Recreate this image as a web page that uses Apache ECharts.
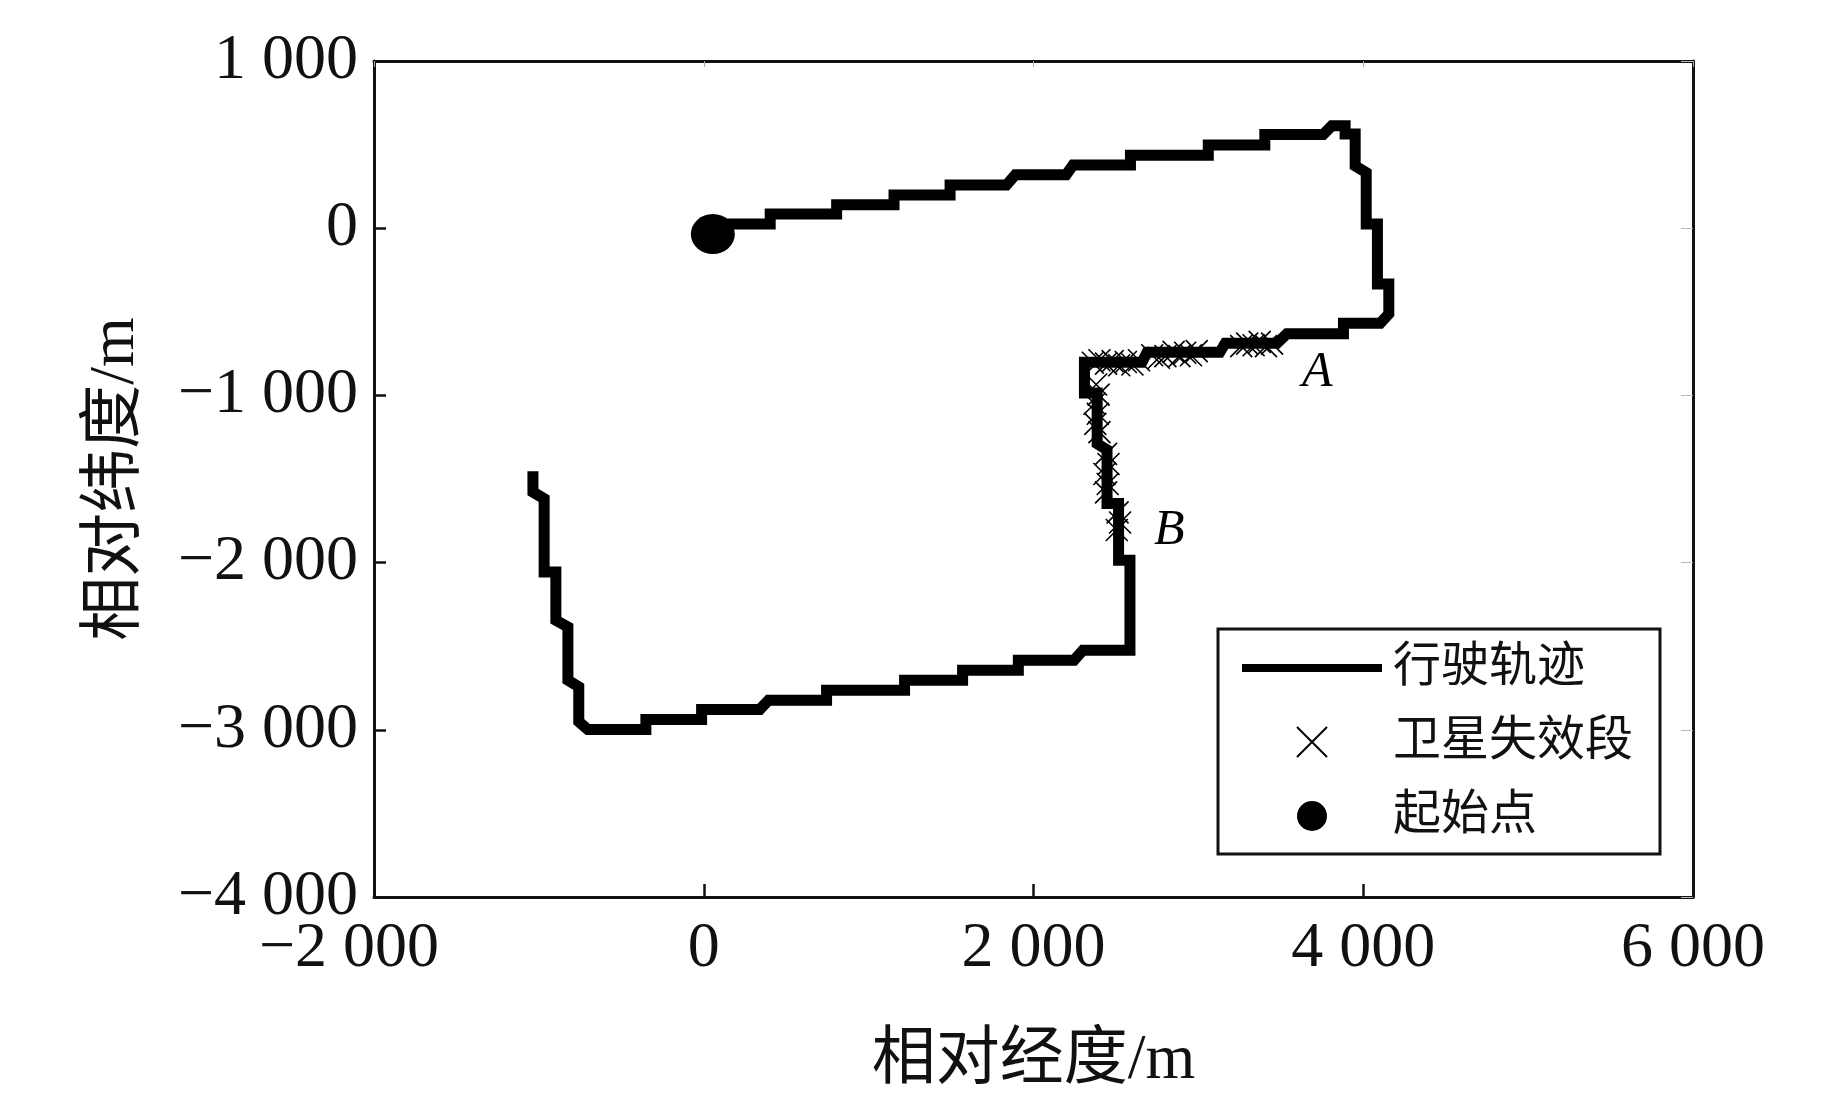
<!DOCTYPE html>
<html>
<head>
<meta charset="utf-8">
<script src="https://cdn.jsdelivr.net/npm/echarts@6/dist/echarts.min.js"></script>
<style>
  html, body { margin: 0; padding: 0; background: #fff; }
  #main { width: 1843px; height: 1110px; }
</style>
</head>
<body>
<div id="main"></div>
<script>
// 行驶轨迹 (relative lon / lat, m)
var trackX = [61, 403, 403, 806, 806, 1154, 1154, 1494, 1494, 1836, 1890, 2198, 2240, 2588, 2588, 3060, 3060, 3403, 3403, 3757,
  3809, 3890, 3890, 3951, 3951, 4018, 4018, 4086, 4086, 4155, 4155, 4103, 3880, 3880, 3537, 3477, 3163, 3130, 2689, 2658,
  2309, 2309, 2386, 2386, 2446, 2446, 2516, 2516, 2585, 2585, 2300, 2246, 1908, 1908, 1570, 1570, 1218, 1218, 745, 745,
  393, 340, -13, -13, -351, -351, -703, -758, -758, -824, -824, -897, -897, -968, -968, -1036, -1036];
var trackY = [25, 25, 85, 85, 140, 140, 198, 198, 258, 258, 320, 320, 378, 378, 437, 437, 497, 497, 560, 560,
  612, 612, 563, 563, 373, 333, 25, 25, -333, -333, -513, -569, -569, -632, -632, -688, -688, -742, -742, -802,
  -802, -985, -985, -1289, -1325, -1646, -1646, -1986, -1986, -2524, -2524, -2584, -2584, -2644, -2644, -2703, -2703, -2763, -2763, -2823,
  -2823, -2878, -2878, -2938, -2938, -2998, -2998, -2952, -2743, -2703, -2385, -2345, -2056, -2056, -1618, -1578, -1453];

// 卫星失效段 points
var failX = [3447, 3410, 3372, 3335, 3296, 3260, 2990, 2955, 2920, 2885, 2850, 2800, 2760, 2720,
  2640, 2600, 2560, 2520, 2480, 2440, 2400, 2360, 2380, 2395, 2370, 2390, 2375, 2400,
  2440, 2455, 2430, 2450, 2440, 2510, 2525, 2505];
var failY = [-690, -705, -680, -700, -690, -705, -735, -760, -745, -765, -740, -765, -775, -760,
  -790, -815, -800, -820, -795, -810, -790, -805, -935, -995, -1050, -1110, -1170, -1220,
  -1350, -1410, -1470, -1530, -1580, -1700, -1760, -1805];

// 起始点
var startX = [55];
var startY = [-35];

// point labels
var noteNames = ['A', 'B'];
var noteX = [3721, 2824];
var noteY = [-863, -1813];

var xTicks = { '-2000': '−2 000', '0': '0', '2000': '2 000', '4000': '4 000', '6000': '6 000' };
var yTicks = { '1000': '1 000', '0': '0', '-1000': '−1 000', '-2000': '−2 000', '-3000': '−3 000', '-4000': '−4 000' };

var serif = "'Liberation Serif', 'Times New Roman', 'Noto Sans CJK SC', serif";

function zip(xs, ys) {
  var out = [];
  for (var i = 0; i < xs.length; i++) out.push([xs[i], ys[i]]);
  return out;
}

var myChart = echarts.init(document.getElementById('main'));

var option = {
  backgroundColor: '#fff',
  animation: false,
  grid: { left: 374, right: 150, top: 61, bottom: 213 },
  legend: {
    data: [{ name: '行驶轨迹', itemStyle: { opacity: 0 } }, '卫星失效段', '起始点'],
    orient: 'vertical',
    left: 1218,
    top: 629,
    padding: [15, 27, 14, 20],
    itemWidth: 140,
    itemHeight: 30,
    itemGap: 26,
    borderColor: '#111',
    borderWidth: 3,
    backgroundColor: '#fff',
    lineStyle: { width: 8, color: '#000', opacity: 1 },
    textStyle: { fontFamily: serif, fontSize: 48, color: '#111', padding: [0, 0, 0, 6] }
  },
  xAxis: [{
    type: 'value', position: 'bottom',
    min: -2000, max: 6000, interval: 2000,
    name: '相对经度/m', nameLocation: 'middle', nameGap: 132,
    nameTextStyle: { fontFamily: serif, fontSize: 64, color: '#111' },
    axisLine: { onZero: false, lineStyle: { color: '#111', width: 3 } },
    axisTick: { inside: true, length: 13, lineStyle: { color: '#111', width: 2.5 } },
    axisLabel: {
      margin: 20, fontFamily: serif, fontSize: 64, color: '#111',
      formatter: function (v) {
        return v < 0 ? '{neg|' + xTicks[v] + '}' : xTicks[v];
      },
      rich: { neg: { fontFamily: serif, fontSize: 64, color: '#111', padding: [0, 50, 0, 0] } }
    },
    splitLine: { show: false }
  }, {
    type: 'value', position: 'top',
    min: -2000, max: 6000, interval: 2000,
    axisLine: { onZero: false, lineStyle: { color: '#111', width: 3 } },
    axisTick: { inside: true, length: 6, lineStyle: { color: '#aaa', width: 1 } },
    axisLabel: { show: false },
    splitLine: { show: false }
  }],
  yAxis: [{
    type: 'value', position: 'left',
    min: -4000, max: 1000, interval: 1000,
    name: '相对纬度/m', nameLocation: 'middle', nameGap: 226,
    nameTextStyle: { fontFamily: serif, fontSize: 64, color: '#111' },
    axisLine: { onZero: false, lineStyle: { color: '#111', width: 3 } },
    axisTick: { inside: true, length: 12, lineStyle: { color: '#111', width: 2.5 } },
    axisLabel: {
      margin: 16, fontFamily: serif, fontSize: 64, color: '#111',
      formatter: function (v) { return yTicks[v]; }
    },
    splitLine: { show: false }
  }, {
    type: 'value', position: 'right',
    min: -4000, max: 1000, interval: 1000,
    axisLine: { onZero: false, lineStyle: { color: '#111', width: 3 } },
    axisTick: { inside: true, length: 12, lineStyle: { color: '#bbb', width: 1 } },
    axisLabel: { show: false },
    splitLine: { show: false }
  }],
  series: [
    {
      name: '行驶轨迹',
      type: 'line',
      data: zip(trackX, trackY),
      showSymbol: false,
      symbol: 'none',
      lineStyle: { color: '#000', width: 11, join: 'miter' },
      itemStyle: { color: '#000' },
      z: 2
    },
    {
      name: '卫星失效段',
      type: 'scatter',
      data: zip(failX, failY),
      symbol: 'path://M0,0L10,10M10,0L0,10',
      symbolSize: 22,
      itemStyle: { color: 'rgba(0,0,0,0)', borderColor: '#000', borderWidth: 1.6, opacity: 1 },
      z: 3
    },
    {
      name: '起始点',
      type: 'scatter',
      data: zip(startX, startY),
      symbol: 'circle',
      symbolSize: [44, 40],
      itemStyle: { color: '#000', opacity: 1 },
      z: 4
    },
    {
      name: 'notes',
      type: 'scatter',
      data: noteNames.map(function (n, i) { return { name: n, value: [noteX[i], noteY[i]] }; }),
      symbolSize: 0,
      itemStyle: { opacity: 1 },
      label: {
        show: true, position: 'inside',
        formatter: '{b}',
        fontFamily: serif, fontStyle: 'italic', fontSize: 50, color: '#000'
      },
      silent: true,
      z: 5
    }
  ]
};

myChart.setOption(option);
onresize = myChart.resize;
</script>
</body>
</html>
